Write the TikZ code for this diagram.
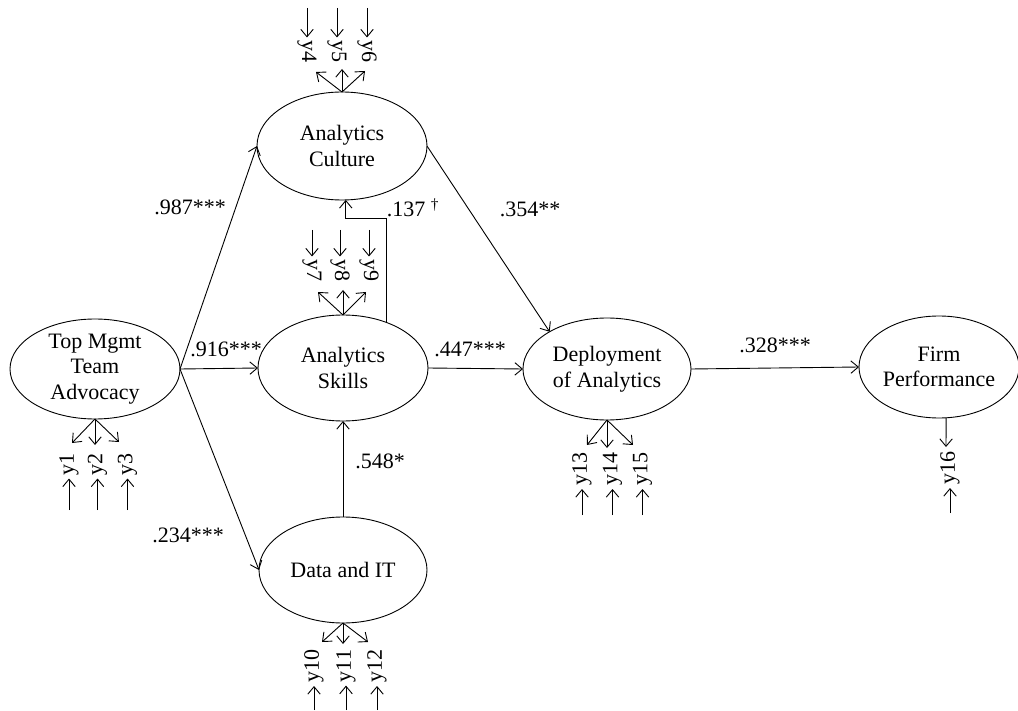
\documentclass[tikz,border=0pt]{standalone}
\usepackage{fontspec}
\setmainfont{Liberation Serif}
\usetikzlibrary{shapes.geometric,arrows.meta}
\begin{document}
\begin{tikzpicture}[x=1pt,y=-1pt,
  every node/.style={font=\fontsize{22}{25.5}\selectfont},
  lat/.style={draw, ellipse, inner sep=0pt, outer sep=0pt, align=center, line width=0.9pt},
  ind/.style={inner sep=3.5pt, outer sep=0pt},
  indup/.style={ind, rotate=-90},
  inddn/.style={ind, rotate=90},
  arr/.style={-{Straight Barb[length=7.5pt,width=12.5pt]}, line width=0.9pt},
  coef/.style={inner sep=0pt, anchor=base},
]
\useasboundingbox (0,0) rectangle (1018,711);

% latent variables
\node[lat, minimum width=170pt, minimum height=100pt] (tm) at (95,369) {Top Mgmt\\Team\\Advocacy};
\node[lat, minimum width=170pt, minimum height=108pt] (cul) at (342,146) {Analytics\\Culture};
\node[lat, minimum width=170pt, minimum height=106pt] (sk) at (343,368) {Analytics\\Skills};
\node[lat, minimum width=168pt, minimum height=106pt] (dit) at (343,570) {Data and IT};
\node[lat, minimum width=168pt, minimum height=102pt] (dep) at (607,369) {Deployment\\of Analytics};
\node[lat, minimum width=160pt, minimum height=102pt] (firm) at (939,367) {Firm\\Performance};

% structural paths
\draw[arr] (tm.east) -- (cul.west);
\draw[arr] (tm.east) -- (sk.west);
\draw[arr] (tm.east) -- (dit.west);
\draw[arr] (cul.east) -- (dep.147);
\draw[arr] (sk.east) -- (dep.west);
\draw[arr] (dit.north) -- (sk.south);
\draw[arr] (dep.east) -- (firm.west);
\draw[arr] (sk.46) -- (sk.46 |- 0,218) -| (cul.-86);

% coefficients
\node[coef] (k1) at (190,215) {.987***};
\node[coef] (k2) at (226,357) {.916***};
\node[coef] (k3) at (188,542) {.234***};
\node[coef] (k4) at (413,217) {.137 \textsuperscript{\textdagger}};
\node[coef] (k5) at (530,217) {.354**};
\node[coef] (k6) at (470,357) {.447***};
\node[coef] (k7) at (380,468) {.548*};
\node[coef] (k8) at (775,353) {.328***};

% indicators: Analytics Culture
\coordinate (t4) at (316,72);
\coordinate (t5) at (342,69);
\coordinate (t6) at (365,71);
\node[indup] (y4) at (307,52) {y4};
\node[indup] (y5) at (337,52) {y5};
\node[indup] (y6) at (367,52) {y6};
\coordinate (e4) at (307,8);
\coordinate (e5) at (337,8);
\coordinate (e6) at (367,8);
\foreach \i in {4,5,6} {
  \draw[arr] (cul.north) -- (t\i);
  \draw[arr] (e\i) -- (y\i);
}

% indicators: Analytics Skills
\coordinate (t7) at (318,292);
\coordinate (t8) at (343,290);
\coordinate (t9) at (366,292);
\node[indup] (y7) at (312,271) {y7};
\node[indup] (y8) at (340,271) {y8};
\node[indup] (y9) at (369,271) {y9};
\coordinate (e7) at (312,230);
\coordinate (e8) at (340,230);
\coordinate (e9) at (369,230);
\foreach \i in {7,8,9} {
  \draw[arr] (sk.north) -- (t\i);
  \draw[arr] (e\i) -- (y\i);
}

% indicators: Top Mgmt
\coordinate (t1) at (72,443);
\coordinate (t2) at (95,445);
\coordinate (t3) at (119,442);
\node[inddn] (y1) at (69,464) {y1};
\node[inddn] (y2) at (97.5,464) {y2};
\node[inddn] (y3) at (127.5,464) {y3};
\coordinate (e1) at (69,510);
\coordinate (e2) at (97.5,510);
\coordinate (e3) at (127.5,510);
\foreach \i in {1,2,3} {
  \draw[arr] (tm.south) -- (t\i);
  \draw[arr] (e\i) -- (y\i);
}

% indicators: Deployment
\coordinate (t13) at (587,445);
\coordinate (t14) at (607,448);
\coordinate (t15) at (633,445);
\node[inddn] (y13) at (582,469) {y13};
\node[inddn] (y14) at (612.5,469) {y14};
\node[inddn] (y15) at (642.5,469) {y15};
\coordinate (e13) at (582,515);
\coordinate (e14) at (612.5,515);
\coordinate (e15) at (642.5,515);
\foreach \i in {13,14,15} {
  \draw[arr] (dep.south) -- (t\i);
  \draw[arr] (e\i) -- (y\i);
}

% indicator: Firm Performance
\coordinate (t16) at (946,447);
\node[inddn] (y16) at (950,468) {y16};
\coordinate (e16) at (950,513);
\draw[arr] (firm.-82) -- (t16);
\draw[arr] (e16) -- (y16);

% indicators: Data and IT
\coordinate (t10) at (322,642);
\coordinate (t11) at (343,644);
\coordinate (t12) at (368,642);
\node[inddn] (y10) at (314,666) {y10};
\node[inddn] (y11) at (346,666) {y11};
\node[inddn] (y12) at (377,666) {y12};
\coordinate (e10) at (314,710);
\coordinate (e11) at (346,710);
\coordinate (e12) at (377,710);
\foreach \i in {10,11,12} {
  \draw[arr] (dit.south) -- (t\i);
  \draw[arr] (e\i) -- (y\i);
}
\end{tikzpicture}
\end{document}
